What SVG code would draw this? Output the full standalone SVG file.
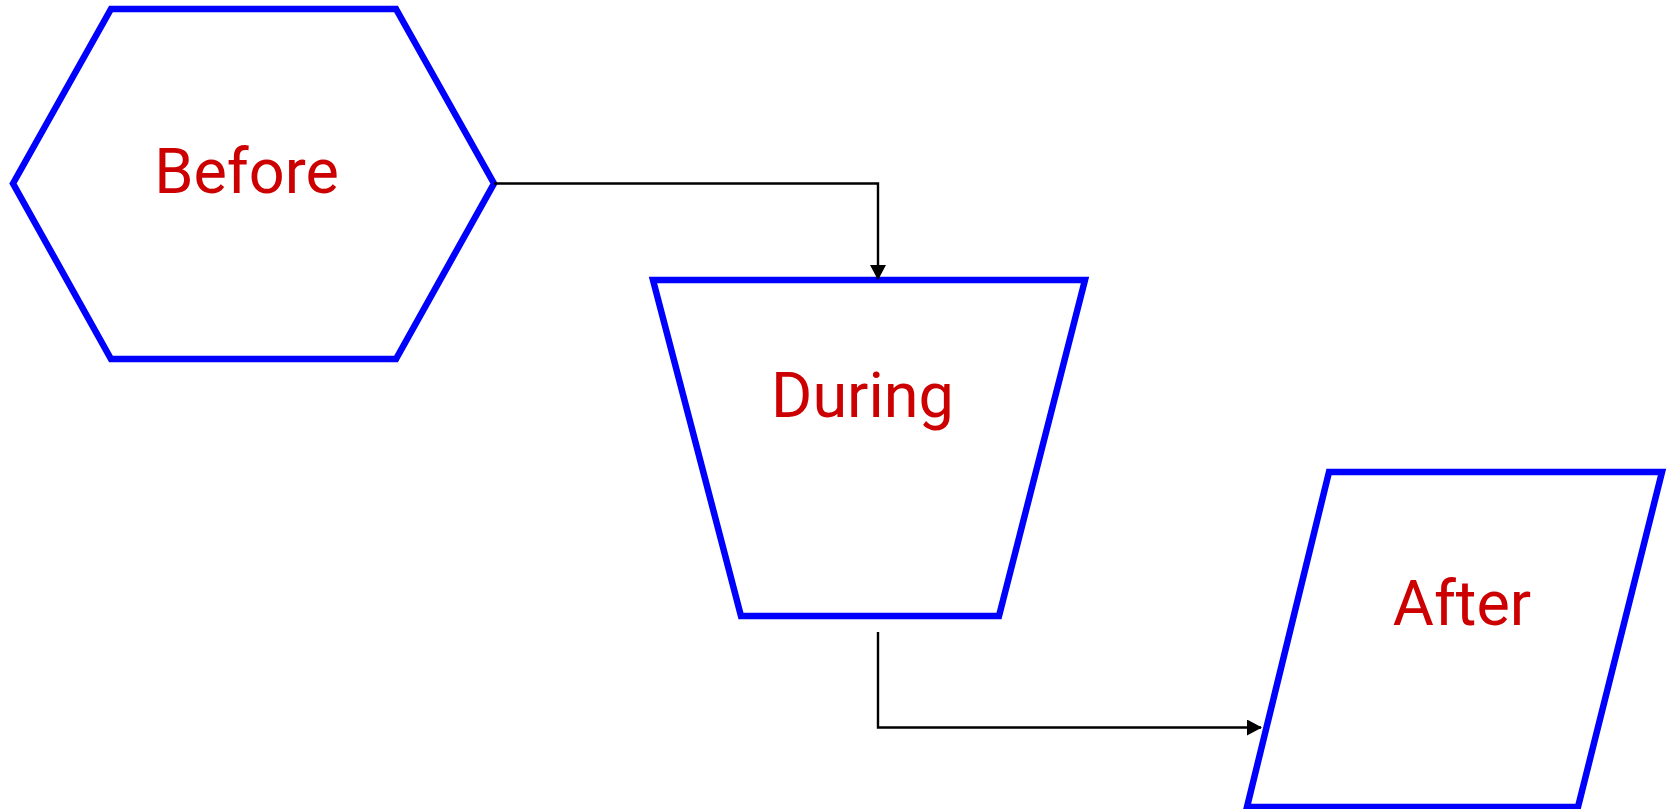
<svg xmlns="http://www.w3.org/2000/svg" width="1669" height="809" viewBox="0 0 1669 809">
<defs>
<style>
.shape{fill:#fff;stroke:#0000ff;stroke-width:6.5}
.label{font-family:Roboto,"Liberation Sans",sans-serif;font-size:63px;fill:#cc0000;text-anchor:middle}
.conn{fill:none;stroke:#000;stroke-width:2.4}
</style>
<marker id="arr" markerWidth="15" markerHeight="16" refX="14" refY="8" orient="auto" markerUnits="userSpaceOnUse">
<path d="M0,0 L15,8 L0,16 Z" fill="#000"/>
</marker>
</defs>
<rect width="1669" height="809" fill="#fff"/>
<g id="before">
<polygon class="shape" points="13,183.5 111,9 396,9 494,183.5 396,359 111,359"/>
<text class="label" x="246.5" y="193">Before</text>
</g>
<g id="during">
<polygon class="shape" points="653,280 1085,280 999,616 741,616"/>
<text class="label" x="862.5" y="417">During</text>
</g>
<g id="after">
<polygon class="shape" points="1329,472 1662,472 1578,807 1247,807"/>
<text class="label" x="1462" y="625">After</text>
</g>
<g id="connectors">
<path class="conn" d="M494,183.5 H878 V279" marker-end="url(#arr)"/>
<path class="conn" d="M878,632 V727.5 H1261" marker-end="url(#arr)"/>
</g>
</svg>
